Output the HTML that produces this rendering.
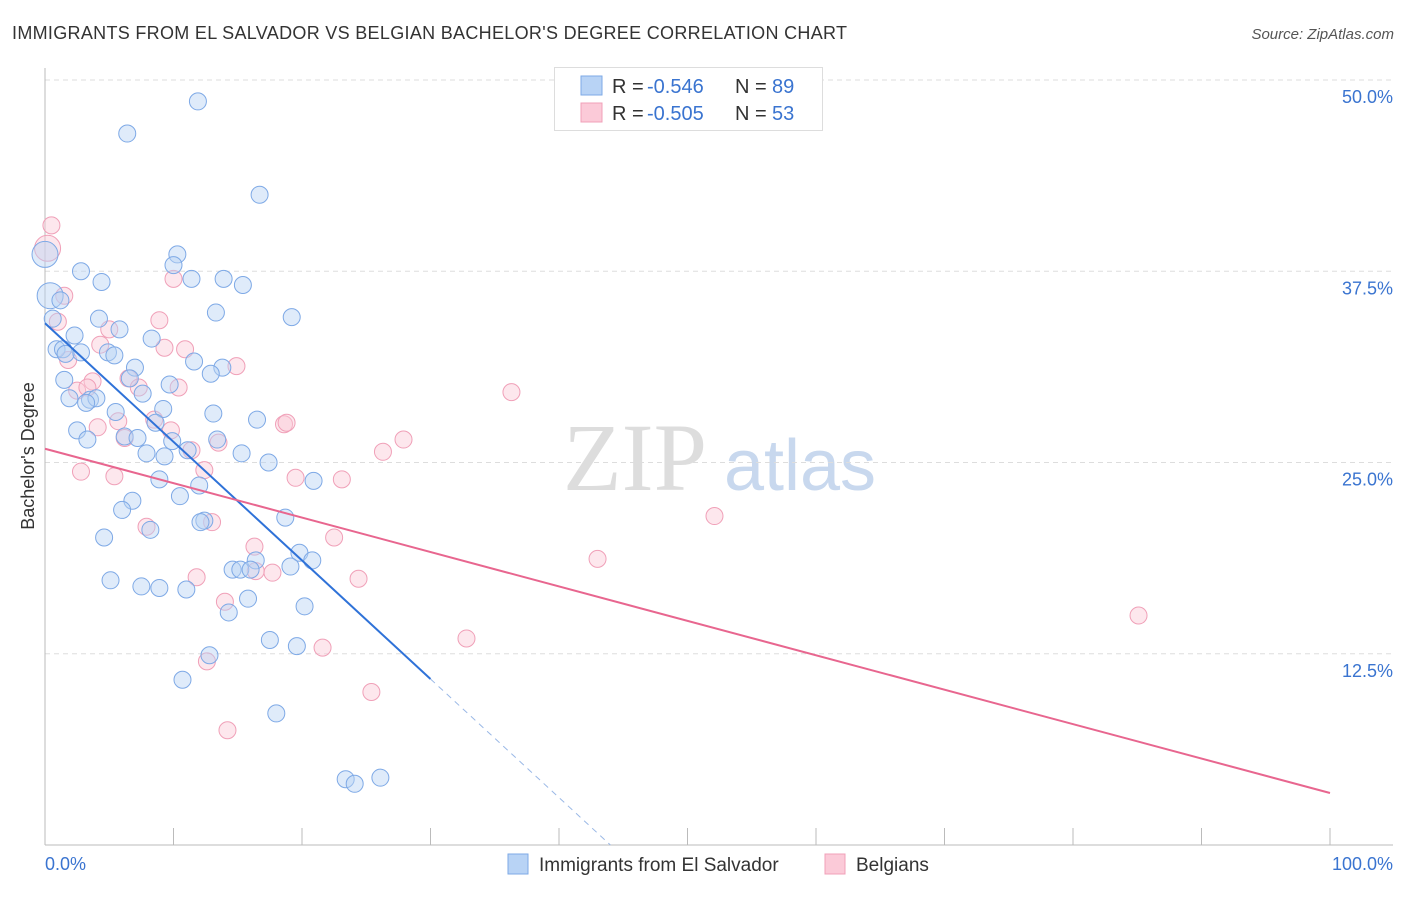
<!DOCTYPE html>
<html><head><meta charset="utf-8"><style>
body{margin:0;background:#fff;font-family:"Liberation Sans",sans-serif}
svg text{font-family:"Liberation Sans",sans-serif}
</style></head><body>
<svg id="chart" width="1406" height="892" xmlns="http://www.w3.org/2000/svg">
<text x="12" y="39" font-size="18" fill="#333" textLength="835">IMMIGRANTS FROM EL SALVADOR VS BELGIAN BACHELOR'S DEGREE CORRELATION CHART</text>
<text x="1394" y="39" font-size="15" fill="#555" font-style="italic" text-anchor="end">Source: ZipAtlas.com</text>
<g>
<text x="635" y="490" font-size="96" fill="#ddd" text-anchor="middle" font-family="Liberation Serif" style="font-family:'Liberation Serif',serif">ZIP</text>
<text x="800" y="490" font-size="72" fill="#c8d8ee" text-anchor="middle">atlas</text>
</g>
<g id="grid"></g>
<g id="marks"></g>
<text transform="translate(34,456) rotate(-90)" font-size="18" fill="#333" text-anchor="middle">Bachelor's Degree</text>
<g>
<rect x="554.5" y="67.5" width="268" height="63" fill="#fff" stroke="#ddd"/>
<rect x="581" y="76" width="21" height="19" fill="#b8d3f5" stroke="#7ea9e6"/>
<rect x="581" y="103" width="21" height="19" fill="#fbcad8" stroke="#f0a0b8"/>
<text x="612" y="93" font-size="20" fill="#333">R =</text>
<text x="647" y="93" font-size="20" fill="#3a74d0">-0.546</text>
<text x="735" y="93" font-size="20" fill="#333">N =</text>
<text x="772" y="93" font-size="20" fill="#3a74d0">89</text>
<text x="612" y="120" font-size="20" fill="#333">R =</text>
<text x="647" y="120" font-size="20" fill="#3a74d0">-0.505</text>
<text x="735" y="120" font-size="20" fill="#333">N =</text>
<text x="772" y="120" font-size="20" fill="#3a74d0">53</text>
</g>
<g>
<rect x="508" y="854" width="20" height="20" fill="#b8d3f5" stroke="#7ea9e6"/>
<text x="539" y="871" font-size="19" fill="#333">Immigrants from El Salvador</text>
<rect x="825" y="854" width="20" height="20" fill="#fbcad8" stroke="#f0a0b8"/>
<text x="856" y="871" font-size="19" fill="#333">Belgians</text>
</g>
</svg>
<script>
const yTicks=[12.5,25,37.5,50];
const yTickLabels=["12.5%","25.0%","37.5%","50.0%"];
const xTickLabels=["0.0%","100.0%"];
const blueX=[11.9,6.4,16.7,0,10.3,2.8,10.0,11.4,13.9,4.4,15.4,0.4,1.2,13.3,19.2,4.2,0.6,5.8,2.3,8.3,0.9,1.4,2.8,4.9,5.4,1.6,11.6,13.8,7.0,12.9,1.5,6.6,9.7,7.6,1.9,3.5,4.0,3.2,9.2,5.5,13.1,16.5,8.6,2.5,6.2,7.2,13.4,3.3,9.9,7.9,11.1,15.3,9.3,17.4,8.9,20.9,12.0,10.5,6.8,6.0,18.7,12.4,12.1,8.2,4.6,19.8,20.8,16.4,19.1,14.6,15.2,16.0,5.1,7.5,8.9,11.0,15.8,20.2,14.3,17.5,19.6,12.8,10.7,18.0,23.4,26.1,24.1];
const blueY=[48.6,46.5,42.5,38.6,38.6,37.5,37.9,37.0,37.0,36.8,36.6,35.9,35.6,34.8,34.5,34.4,34.4,33.7,33.3,33.1,32.4,32.4,32.2,32.2,32.0,32.1,31.6,31.2,31.2,30.8,30.4,30.5,30.1,29.5,29.2,29.1,29.2,28.9,28.5,28.3,28.2,27.8,27.6,27.1,26.7,26.6,26.5,26.5,26.4,25.6,25.8,25.6,25.4,25.0,23.9,23.8,23.5,22.8,22.5,21.9,21.4,21.2,21.1,20.6,20.1,19.1,18.6,18.6,18.2,18.0,18.0,18.0,17.3,16.9,16.8,16.7,16.1,15.6,15.2,13.4,13.0,12.4,10.8,8.6,4.3,4.4,4.0];
const pinkX=[0.5,0.2,1.5,1.0,10.0,8.9,5.0,4.3,9.3,10.9,14.9,1.8,3.7,6.5,2.5,3.3,7.3,10.4,36.3,5.7,8.5,18.6,18.8,4.1,9.8,6.2,27.9,13.5,11.4,26.3,12.4,2.8,5.4,19.5,23.1,52.1,7.9,13.0,22.5,16.3,43.0,16.4,17.7,11.8,24.4,14.0,85.1,32.8,21.6,12.6,25.4,14.2];
const pinkY=[40.5,39.0,35.9,34.2,37.0,34.3,33.7,32.7,32.5,32.4,31.3,31.7,30.3,30.5,29.7,29.9,29.9,29.9,29.6,27.7,27.8,27.5,27.6,27.3,27.1,26.6,26.5,26.3,25.8,25.7,24.5,24.4,24.1,24.0,23.9,21.5,20.8,21.1,20.1,19.5,18.7,17.9,17.8,17.5,17.4,15.9,15.0,13.5,12.9,12.0,10.0,7.5];
const blueBig=[3,11];
const pinkBig=[1];
const blueLine=[34.1,-0.775];
const pinkLine=[25.9,-0.225];
const NS="http://www.w3.org/2000/svg";
const X0=45,X1=1330,Y0=845,Y50=80;
const sx=v=>X0+(X1-X0)*v/100;
const sy=v=>Y0-(Y0-Y50)*v/50;
function mk(t,a,p){const e=document.createElementNS(NS,t);for(const k in a)e.setAttribute(k,a[k]);p.appendChild(e);return e;}
const grid=document.getElementById('grid'),marks=document.getElementById('marks');
yTicks.forEach((t,i)=>{
 const l=mk('line',{x1:X0,x2:1393,y1:sy(t),y2:sy(t),stroke:'#ddd','stroke-dasharray':'5,4'},grid);
 
 
 const tx=mk('text',{x:1393,y:sy(t)+23,'font-size':18,fill:'#3a74d0','text-anchor':'end'},grid);
 tx.textContent=yTickLabels[i];
 
 
});
const ax=mk('line',{x1:X0,x2:1393,y1:Y0,y2:Y0,stroke:'#bbb'},grid);


const ay=mk('line',{x1:X0,x2:X0,y1:68,y2:Y0,stroke:'#bbb'},grid);


for(let i=0;i<=10;i++){
 const t=mk('line',{x1:sx(i*10),x2:sx(i*10),y1:828,y2:Y0,stroke:'#bbb'},grid);
 
 
}
[[0,'start',45],[100,'end',1393]].forEach((d,i)=>{
 const t=mk('text',{x:d[2],y:870,'font-size':18,fill:'#3a74d0','text-anchor':d[1]},grid);
 t.textContent=xTickLabels[i];
 
 
});
function dots(xs,ys,big,fill,stroke,name){
 xs.forEach((x,i)=>{
  const c=mk('circle',{cx:sx(x),cy:sy(ys[i]),r:big.includes(i)?13:8.5,fill:fill,'fill-opacity':0.45,stroke:stroke,'stroke-width':1},marks);
  
  
 });
}
dots(pinkX,pinkY,pinkBig,'#fbcad8','#f0a0b8','belgians-point');
dots(blueX,blueY,blueBig,'#b8d3f5','#7ea9e6','salvador-point');
const bEnd=30, bZero=-blueLine[0]/blueLine[1];
const bl=mk('line',{x1:sx(0),y1:sy(blueLine[0]),x2:sx(bEnd),y2:sy(blueLine[0]+blueLine[1]*bEnd),stroke:'#2f72d8','stroke-width':2},marks);


const bd=mk('line',{x1:sx(bEnd),y1:sy(blueLine[0]+blueLine[1]*bEnd),x2:sx(bZero),y2:sy(0),stroke:'#9ab8e6','stroke-width':1,'stroke-dasharray':'6,5'},marks);


const pl=mk('line',{x1:sx(0),y1:sy(pinkLine[0]),x2:sx(100),y2:sy(pinkLine[0]+pinkLine[1]*100),stroke:'#e8668f','stroke-width':2},marks);


</script>
</body></html>
